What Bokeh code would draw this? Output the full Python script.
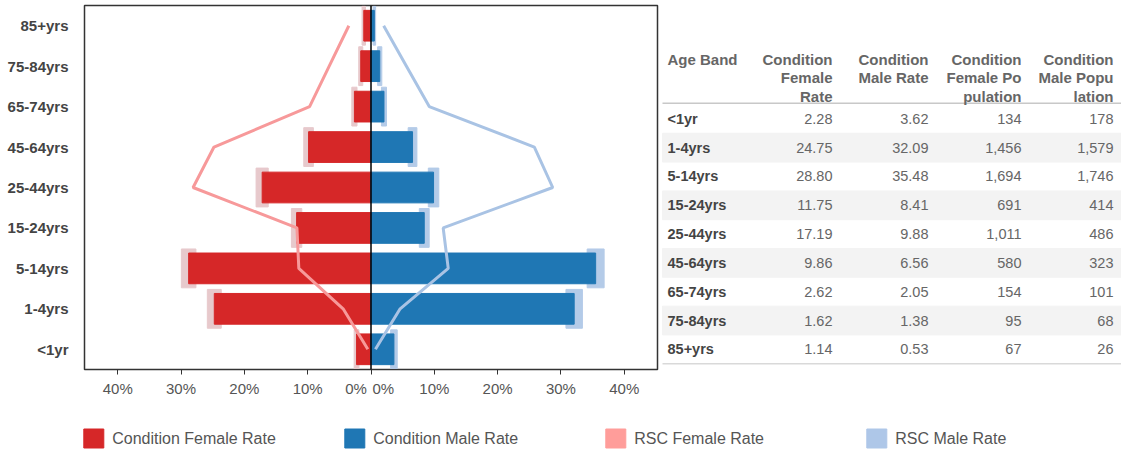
from bokeh.plotting import figure
from bokeh.layouts import column, row
from bokeh.models import (ColumnDataSource, FactorRange, Range1d, FixedTicker,
                          CustomJSTickFormatter, Span)
from bokeh.core.properties import value
from bokeh.embed import file_html
from bokeh.resources import INLINE

# ---------------- data ----------------
ages = ["<1yr", "1-4yrs", "5-14yrs", "15-24yrs", "25-44yrs",
        "45-64yrs", "65-74yrs", "75-84yrs", "85+yrs"]
female_rate = [2.28, 24.75, 28.80, 11.75, 17.19, 9.86, 2.62, 1.62, 1.14]
male_rate = [3.62, 32.09, 35.48, 8.41, 9.88, 6.56, 2.05, 1.38, 0.53]
female_pop = [134, 1456, 1694, 691, 1011, 580, 154, 95, 67]
male_pop = [178, 1579, 1746, 414, 486, 323, 101, 68, 26]
rsc_female = [0.5, 4.4, 11.4, 11.7, 28.1, 24.8, 9.7, 6.6, 3.5]
rsc_male = [0.7, 4.6, 12.2, 11.4, 28.7, 25.8, 9.2, 5.6, 2.0]
female_lo = [1.90, 23.65, 27.65, 10.93, 16.23, 9.10, 2.21, 1.30, 0.87]
female_hi = [2.66, 25.85, 29.95, 12.57, 18.15, 10.62, 3.03, 1.94, 1.41]
male_lo = [3.10, 30.79, 34.14, 7.63, 9.05, 5.87, 1.65, 1.05, 0.33]
male_hi = [4.14, 33.39, 36.82, 9.19, 10.71, 7.25, 2.45, 1.71, 0.73]
tick_marks = [-40, -30, -20, -10, 0, 10, 20, 30, 40]
# label positions: the two "0%" labels sit either side of the centre line
tick_labels_at = [-40, -30, -20, -10, -2.35, 1.95, 10, 20, 30, 40]

table_headers = [["Age Band"],
                 ["Condition", "Female", "Rate"],
                 ["Condition", "Male Rate"],
                 ["Condition", "Female Po", "pulation"],
                 ["Condition", "Male Popu", "lation"]]
legend_labels = ["Condition Female Rate", "Condition Male Rate",
                 "RSC Female Rate", "RSC Male Rate"]

# ---------------- style ----------------
FONT = "Liberation Sans"
RED = "#d62728"
BLUE = "#1f77b4"
RSC_F = "#f7999a"
RSC_M = "#a9c3e4"
CI_F = "#e7c9cc"
CI_M = "#b4cbe8"
legend_colors = [RED, BLUE, "#ff9d9a", "#aec7e8"]

# frame geometry (page pixels)
FR_TOP, FR_BOT = 5, 372
B_BOT = 27
H = FR_BOT + B_BOT

# ---------------- pyramid chart ----------------
src = ColumnDataSource(dict(
    age=ages,
    f_left=[-v for v in female_rate],
    m_right=male_rate,
    fci_l=[-v for v in female_hi], fci_r=[-v for v in female_lo],
    mci_l=male_lo, mci_r=male_hi,
    rsc_f=[-v for v in rsc_female], rsc_m=rsc_male,
))

p = figure(width=659, height=H, y_range=FactorRange(factors=ages),
           x_range=Range1d(-45.25, 45.25), output_backend="svg",
           toolbar_location=None, min_border_left=84, min_border_right=2,
           min_border_top=FR_TOP, min_border_bottom=B_BOT)
p.background_fill_color = "white"
p.border_fill_color = "white"
p.outline_line_color = "#333333"
p.outline_line_width = 1.5
p.xgrid.visible = False
p.ygrid.visible = False

p.hbar(y="age", left="fci_l", right="fci_r", height=0.96, color=CI_F, source=src)
p.hbar(y="age", left="mci_l", right="mci_r", height=0.96, color=CI_M, source=src)
p.hbar(y="age", left="f_left", right=0, height=0.76, color=RED, source=src)
p.hbar(y="age", left=0, right="m_right", height=0.76, color=BLUE, source=src)
p.line(x="rsc_f", y="age", line_color=RSC_F, line_width=3, source=src)
p.line(x="rsc_m", y="age", line_color=RSC_M, line_width=3, source=src)
p.add_layout(Span(location=0, dimension="height", line_color="black", line_width=1.5))

p.xaxis.ticker = FixedTicker(ticks=tick_labels_at, minor_ticks=tick_marks)
p.xaxis.formatter = CustomJSTickFormatter(
    code="return Math.abs(tick) < 5 ? '0%' : Math.abs(tick) + '%';")
p.xaxis.axis_line_color = "#333333"
p.xaxis.major_tick_line_color = None
p.xaxis.major_tick_out = 5
p.xaxis.major_tick_in = 0
p.xaxis.minor_tick_line_color = "#333333"
p.xaxis.minor_tick_out = 5
p.xaxis.minor_tick_in = 0
p.xaxis.major_label_text_font = FONT
p.xaxis.major_label_text_font_size = "15px"
p.xaxis.major_label_text_color = "#555555"
p.xaxis.major_label_standoff = 5

p.yaxis.axis_line_color = None
p.yaxis.major_tick_line_color = None
p.yaxis.minor_tick_line_color = None
p.yaxis.major_label_text_font = FONT
p.yaxis.major_label_text_font_size = "15px"
p.yaxis.major_label_text_font_style = "bold"
p.yaxis.major_label_text_color = "#444444"
p.yaxis.major_label_standoff = 10

# ---------------- table (page-pixel coordinates) ----------------
TX0, TX1 = 659, 1121
t = figure(width=TX1 - TX0, height=H, x_range=Range1d(TX0, TX1),
           y_range=Range1d(FR_BOT, FR_TOP), output_backend="svg",
           toolbar_location=None, min_border_left=0, min_border_right=0,
           min_border_top=FR_TOP, min_border_bottom=B_BOT,
           x_axis_type=None, y_axis_type=None)
t.outline_line_color = None
t.background_fill_color = "white"
t.border_fill_color = "white"
t.grid.visible = False

col_right = [None, 832, 928, 1021, 1113]
left_x = 667
line_x0 = 662
row0, row_h = 119.3, 29.05
head0, head_h = 59.5, 18.5
row_y = [row0 + i * row_h for i in range(len(ages))]

band_rows = [y for i, y in enumerate(row_y) if i % 2 == 1]
t.quad(left=line_x0, right=TX1, top=[y - row_h / 2 for y in band_rows],
       bottom=[y + row_h / 2 for y in band_rows], color="#f3f3f3")
t.segment(x0=line_x0, x1=TX1, y0=103.5, y1=103.5, line_color="#c8c8c8", line_width=1.5)
t.segment(x0=line_x0, x1=TX1, y0=row_y[-1] + row_h / 2, y1=row_y[-1] + row_h / 2,
          line_color="#d9d9d9", line_width=1.5)

hx, hy, ht, ha = [], [], [], []
for c, lines in enumerate(table_headers):
    for j, s in enumerate(lines):
        hx.append(left_x if c == 0 else col_right[c])
        hy.append(head0 + j * head_h)
        ht.append(s)
        ha.append("left" if c == 0 else "right")
t.text(x=hx, y=hy, text=ht, text_align=ha, text_baseline="middle",
       text_font=value(FONT), text_font_size=value("15px"), text_font_style="bold",
       text_color="#666666")

t.text(x=[left_x] * len(ages), y=row_y, text=ages, text_align="left",
       text_baseline="middle", text_font=value(FONT), text_font_size=value("14.5px"),
       text_font_style="bold", text_color="#444444")

cols = [[f"{v:.2f}" for v in female_rate], [f"{v:.2f}" for v in male_rate],
        [f"{v:,}" for v in female_pop], [f"{v:,}" for v in male_pop]]
vx, vy, vt = [], [], []
for c, vals in enumerate(cols):
    for i, s in enumerate(vals):
        vx.append(col_right[c + 1])
        vy.append(row_y[i])
        vt.append(s)
t.text(x=vx, y=vy, text=vt, text_align="right", text_baseline="middle",
       text_font=value(FONT), text_font_size=value("14.5px"), text_color="#666666")

# ---------------- legend (page-pixel coordinates) ----------------
LY0, LY1 = H, 454
lg = figure(width=1121, height=LY1 - LY0, x_range=Range1d(0, 1121),
            y_range=Range1d(LY1, LY0), output_backend="svg", toolbar_location=None,
            min_border=0, x_axis_type=None, y_axis_type=None)
lg.outline_line_color = None
lg.background_fill_color = "white"
lg.border_fill_color = "white"
lg.grid.visible = False
item_x0, item_w, cy = 83.3, 261.0, 438.0
sq_x = [item_x0 + i * item_w for i in range(len(legend_labels))]
lg.quad(left=sq_x, right=[x + 20 for x in sq_x], top=cy - 9.5, bottom=cy + 9.5,
        color=legend_colors)
lg.text(x=[x + 28.4 for x in sq_x], y=cy, text=legend_labels, text_align="left",
        text_baseline="middle", text_font=value(FONT), text_font_size=value("16px"),
        text_color="#555555")

layout = column(row(p, t), lg)
open("out.html", "w").write(file_html(layout, INLINE))
